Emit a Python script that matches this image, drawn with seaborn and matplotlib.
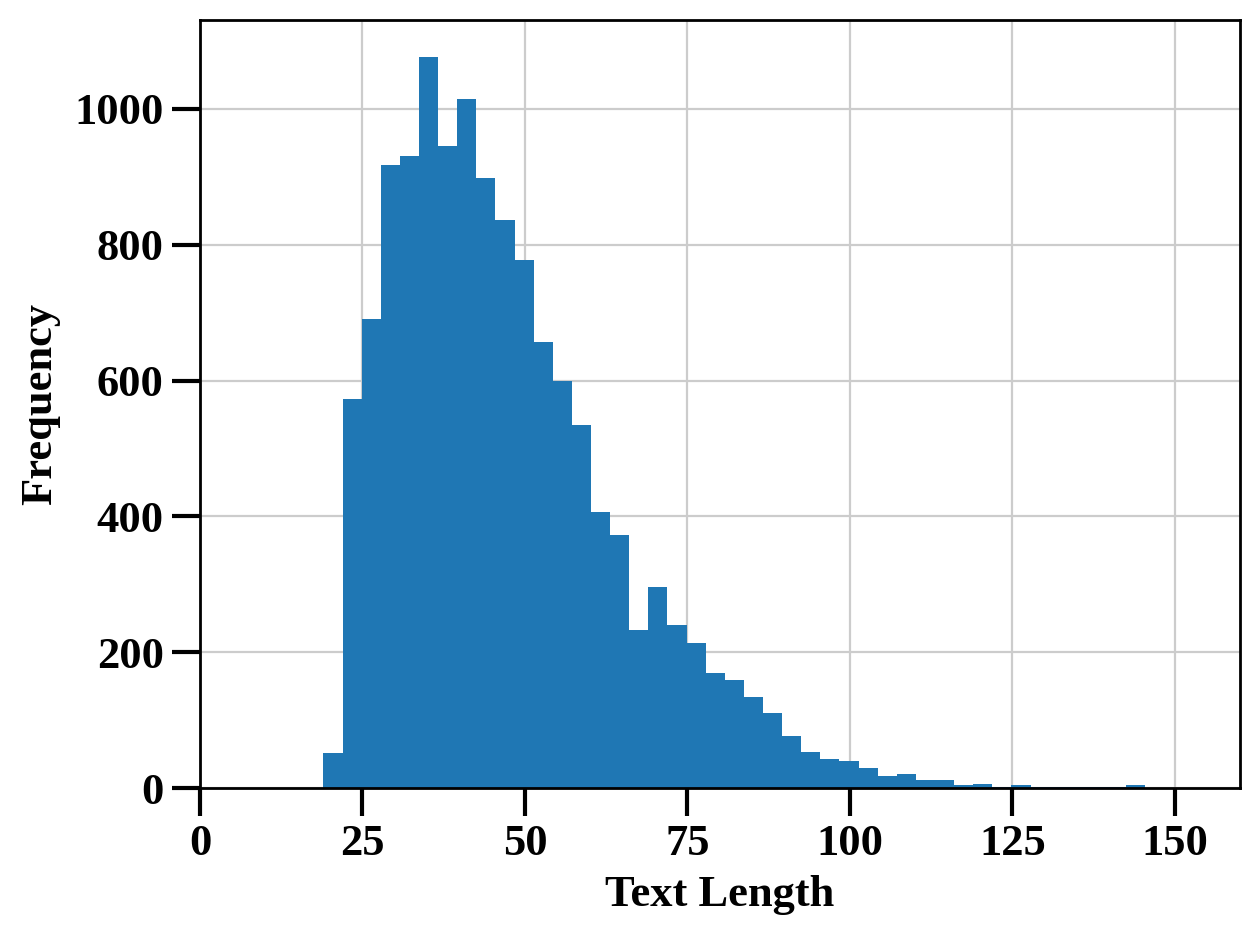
"""
Histograma de longitudes de texto (recreación).
"""

import matplotlib
matplotlib.use("Agg")
import matplotlib.pyplot as plt
import numpy as np
import seaborn as sns

# conteos por bin (50 bins entre 19 y 166)
counts = [52, 573, 690, 918, 930, 1077, 946, 1014, 898, 837,
          777, 657, 600, 534, 407, 372, 233, 296, 240, 214,
          170, 159, 134, 111, 77, 53, 43, 40, 30, 18,
          21, 12, 12, 5, 6, 1, 5, 2, 2, 2,
          2, 1, 5, 0, 0, 0, 0, 0, 0, 0]
min_len = 19
max_len = 166
n_bins = 50

x_ticks = [0, 25, 50, 75, 100, 125, 150]
y_ticks = [0, 200, 400, 600, 800, 1000]


def main():
    sns.set_style("whitegrid", {"axes.edgecolor": "black", "grid.color": ".8"})
    plt.rcParams["font.family"] = ["Liberation Serif", "DejaVu Serif"]
    plt.rcParams["font.weight"] = "bold"
    plt.rcParams["text.color"] = "black"
    plt.rcParams["axes.labelcolor"] = "black"
    plt.rcParams["xtick.color"] = "black"
    plt.rcParams["ytick.color"] = "black"

    width = (max_len - min_len) / n_bins
    centers = min_len + width * (np.arange(n_bins) + 0.5)

    fig = plt.figure(figsize=(6.3, 4.7), dpi=200)
    ax = fig.add_axes([0.1587, 0.1617, 0.8254, 0.817])

    sns.histplot(x=centers, weights=counts, bins=n_bins, binrange=(min_len, max_len),
                 color="#1f77b4", alpha=1, linewidth=0, ax=ax)

    ax.set_xlim(0, 160)
    ax.set_xticks(x_ticks)
    ax.set_yticks(y_ticks)
    ax.grid(True, linewidth=0.8)
    ax.set_axisbelow(True)

    for s in ax.spines.values():
        s.set_linewidth(1.0)
        s.set_color("black")
    ax.tick_params(axis="both", which="major", length=10, width=1.5, color="black",
                   labelcolor="black", labelsize=16, pad=3, direction="out",
                   bottom=True, left=True)
    for lbl in ax.get_xticklabels() + ax.get_yticklabels():
        lbl.set_fontweight("bold")

    ax.set_xlabel("Text Length", fontsize=16, fontweight="bold", labelpad=4)
    ax.set_ylabel("Frequency", fontsize=16, fontweight="bold", labelpad=5)

    fig.savefig("out.png", dpi=200)


if __name__ == "__main__":
    main()
